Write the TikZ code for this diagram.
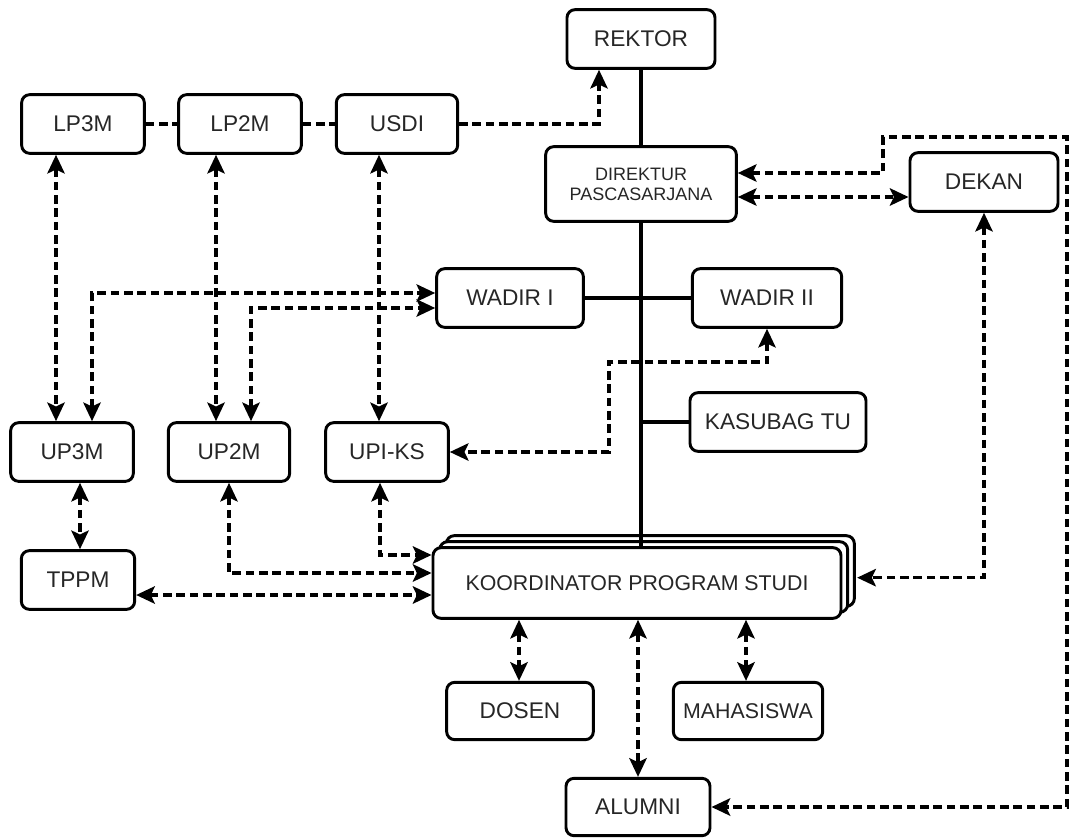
\documentclass[tikz,border=0pt]{standalone}
\usepackage{fontspec}
\setmainfont{Liberation Sans}
\usetikzlibrary{arrows.meta, shadows}

\begin{document}
\begin{tikzpicture}[x=0.75pt, y=-0.75pt,
  box/.style={draw, line width=2.2pt, rounded corners=6pt, fill=white, text=black!85, font=\fontsize{17}{18}\selectfont, minimum height=44pt, inner sep=2pt, align=center},
  link/.style={line width=2.6pt, dash pattern=on 6.5pt off 3.5pt},
  twoway/.style={link, {Stealth[length=14pt,width=13pt,inset=3pt]}-{Stealth[length=14pt,width=13pt,inset=3pt]}},
  oneway/.style={link, -{Stealth[length=14pt,width=13pt,inset=3pt]}},
  spine/.style={line width=3.2pt}]
\fill[white] (0,0) rectangle (1069,838);
\useasboundingbox (0,0) rectangle (1069,838);

\node[box, minimum width=111pt] (rektor) at (641,39) {REKTOR};
\node[box, minimum width=92pt] (lp3m) at (83,124) {LP3M};
\node[box, minimum width=92pt] (lp2m) at (240,124) {LP2M};
\node[box, minimum width=91pt] (usdi) at (397,124) {USDI};
\node[box, minimum width=143pt, minimum height=56pt, font=\fontsize{13.5}{15}\selectfont] (direktur) at (641,184) {DIREKTUR\\PASCASARJANA};
\node[box, minimum width=111pt] (dekan) at (984,182) {DEKAN};
\node[box, minimum width=110pt] (wadir1) at (510,298) {WADIR I};
\node[box, minimum width=112pt] (wadir2) at (767,298) {WADIR II};
\node[box, minimum width=132pt] (kasubag) at (778,422) {KASUBAG TU};
\node[box, minimum width=92pt] (up3m) at (72,452) {UP3M};
\node[box, minimum width=91pt] (up2m) at (229,452) {UP2M};
\node[box, minimum width=92pt] (upiks) at (387,452) {UPI-KS};
\node[box, minimum width=85pt] (tppm) at (78,580) {TPPM};
\node[box, minimum width=306pt, minimum height=53pt, font=\fontsize{16}{18}\selectfont, double copy shadow={shadow xshift=5pt, shadow yshift=4.5pt}] (koord) at (637,583) {KOORDINATOR PROGRAM STUDI};
\node[box, minimum width=110pt, minimum height=43pt] (dosen) at (520,711) {DOSEN};
\node[box, minimum width=112pt, minimum height=43pt, font=\fontsize{16}{18}\selectfont] (mahasiswa) at (748,711) {MAHASISWA};
\node[box, minimum width=108pt, minimum height=43pt] (alumni) at (638,807) {ALUMNI};

\draw[spine] (rektor) -- (direktur);
\draw[spine] (direktur.south) -- (koord.north -| direktur.south);
\draw[spine] (wadir1) -- (wadir2);
\draw[spine] (kasubag.west) -- (kasubag.west -| direktur.south);

\draw[link] (lp3m) -- (lp2m);
\draw[link] (lp2m) -- (usdi);
\draw[oneway] (usdi.east) -| (rektor.south -| 599,0);

\foreach \a/\b/\x in {lp3m/up3m/56, lp2m/up2m/216, usdi/upiks/379, up3m/tppm/80, koord/dosen/519, koord/mahasiswa/746, koord/alumni/638}
  \draw[twoway] (\a.south -| \x,0) -- (\b.north -| \x,0);

\draw[twoway] (up3m.north -| 92,0) |- (wadir1.west |- 0,293);
\draw[twoway] (up2m.north -| 251,0) |- (wadir1.west |- 0,308);
\draw[twoway] (wadir2.south) |- (609,362) |- (upiks.east);
\draw[twoway] (dekan.south) |- ([shift={(11pt,4pt)}]koord.east);
\draw[twoway] (direktur.east |- 0,197) -- (dekan.west |- 0,197);
\draw[twoway] (direktur.east |- 0,173) -| (883,137) -| (1067,807) -- (alumni.east);
\draw[twoway] (up2m.south) |- (koord.west |- 0,573);
\draw[twoway] (upiks.south -| 380,0) |- (koord.west |- 0,555);
\draw[twoway] (tppm.east |- 0,595) -- (koord.west |- 0,595);
\end{tikzpicture}
\end{document}
